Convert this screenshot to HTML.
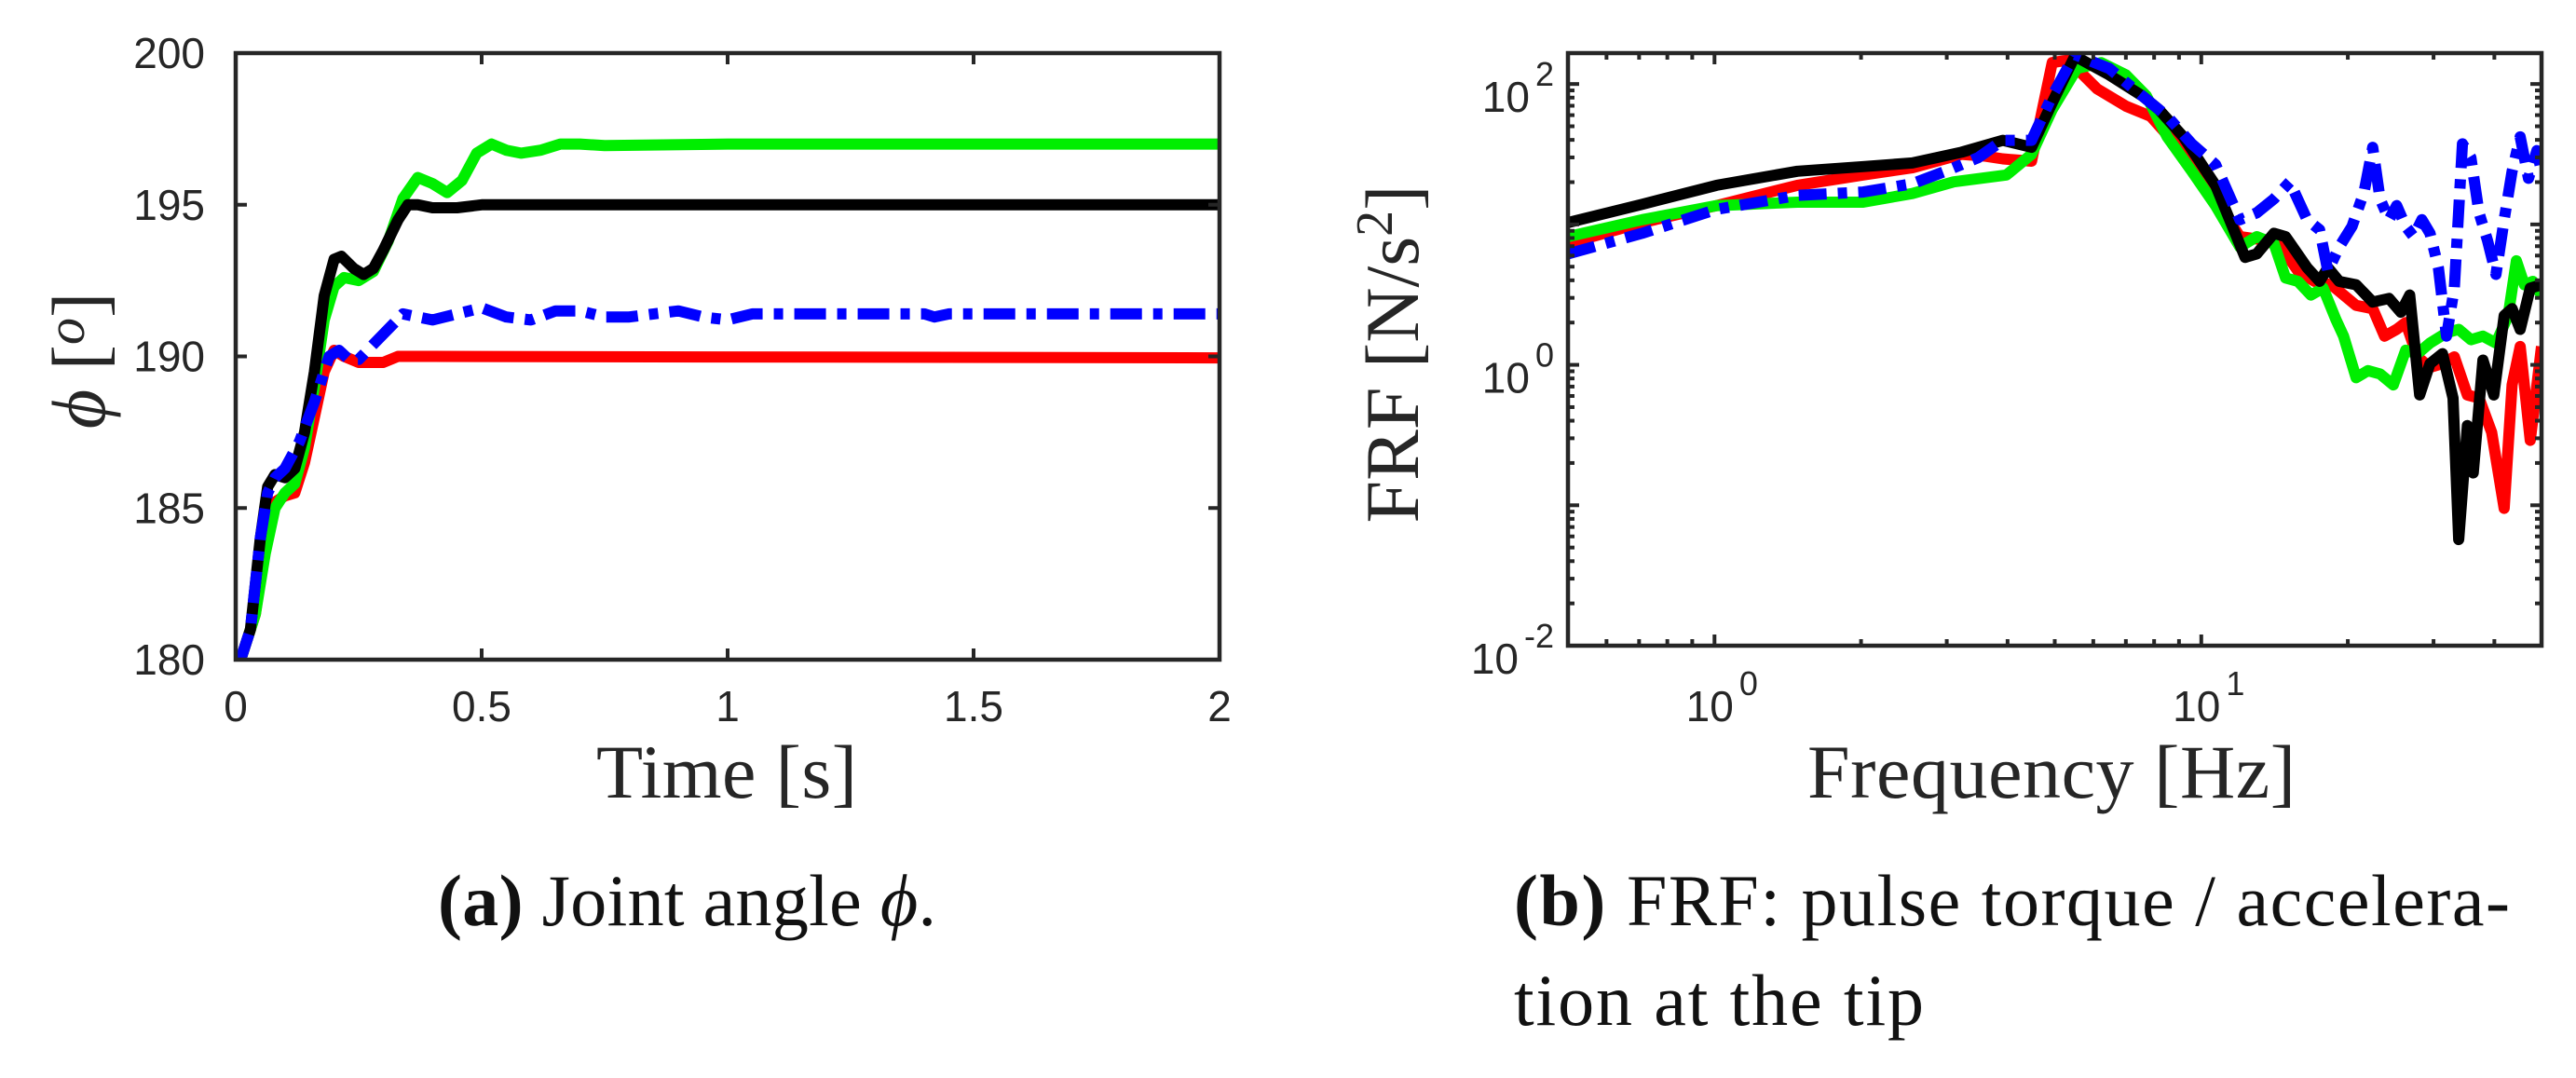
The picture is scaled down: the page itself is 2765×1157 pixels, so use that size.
<!DOCTYPE html>
<html><head><meta charset="utf-8"><style>
html,body{margin:0;padding:0;background:#fff;}
svg{display:block;}
</style></head><body>
<svg id="fig" width="2765" height="1157" viewBox="0 0 2765 1157" xmlns="http://www.w3.org/2000/svg">
<defs>
<clipPath id="clipA"><rect x="253" y="57" width="1056" height="651"/></clipPath>
<clipPath id="clipB"><rect x="1683" y="57" width="1045" height="636"/></clipPath>
</defs>
<g id="chartA"></g>
<g id="chartB"></g>
<text x="780" y="856" text-anchor="middle" font-family="Liberation Serif, serif" font-size="82" fill="#262626" textLength="280">Time [s]</text>
<text transform="translate(112,387) rotate(-90)" text-anchor="middle" font-family="Liberation Serif, serif" font-size="82" fill="#262626"><tspan font-style="italic">ϕ</tspan> [<tspan font-style="italic" font-size="58" dy="-22">o</tspan><tspan dy="22">]</tspan></text>
<text x="470" y="993" font-family="Liberation Serif, serif" font-size="78" fill="#111" textLength="535"><tspan font-weight="bold">(a)</tspan> Joint angle <tspan font-style="italic">ϕ</tspan>.</text>
<text x="2202" y="856" text-anchor="middle" font-family="Liberation Serif, serif" font-size="82" fill="#262626" textLength="524">Frequency [Hz]</text>
<text transform="translate(1522,380) rotate(-90)" text-anchor="middle" font-family="Liberation Serif, serif" font-size="82" fill="#262626">FRF [N/s<tspan font-size="56" dy="-28">2</tspan><tspan dy="28">]</tspan></text>
<text x="1625" y="993" font-family="Liberation Serif, serif" font-size="78" fill="#111" textLength="1069"><tspan font-weight="bold">(b)</tspan> FRF: pulse torque / accelera-</text>
<text x="1625" y="1100" font-family="Liberation Serif, serif" font-size="78" fill="#111" textLength="440">tion at the tip</text>
</svg>
<script>
// ---- Chart A data ----
const tBlack=[0,0.01,0.03,0.05,0.065,0.08,0.1,0.12,0.14,0.16,0.18,0.2,0.215,0.24,0.26,0.28,0.3,0.33,0.35,0.37,0.4,0.45,0.5,2];
const vBlack=[180,180,181,184,185.7,186.1,186.0,186.3,187.5,189.5,192,193.2,193.3,192.9,192.7,192.9,193.5,194.5,195,195,194.9,194.9,195.0,195];
const tGreen=[0,0.01,0.04,0.06,0.08,0.1,0.12,0.14,0.16,0.18,0.2,0.22,0.25,0.28,0.31,0.34,0.37,0.4,0.43,0.46,0.49,0.52,0.55,0.58,0.62,0.66,0.7,0.75,1.0,2];
const vGreen=[180,180,181.5,183.5,185,185.5,185.8,187,189,191.2,192.3,192.6,192.5,192.8,193.8,195.2,195.9,195.7,195.4,195.8,196.7,197.0,196.8,196.7,196.8,197.0,197.0,196.95,197.0,197];
const tRed=[0,0.01,0.04,0.06,0.08,0.1,0.12,0.14,0.16,0.18,0.2,0.22,0.25,0.3,0.33,0.4,2];
const vRed=[180,180,181.5,183.8,185.2,185.4,185.5,186.5,188,189.5,190.2,190.0,189.8,189.8,190.0,190.0,189.95];
const tBlue=[0,0.01,0.03,0.05,0.065,0.08,0.1,0.13,0.16,0.19,0.21,0.23,0.25,0.28,0.31,0.34,0.37,0.4,0.45,0.5,0.55,0.6,0.65,0.7,0.75,0.8,0.85,0.9,0.95,1.0,1.05,1.2,1.4,1.42,1.45,2];
const vBlue=[180,180,181,184,185.5,186,186.3,187.2,188.5,190,190.2,189.9,189.9,190.4,190.9,191.4,191.3,191.2,191.4,191.6,191.3,191.2,191.5,191.5,191.3,191.3,191.4,191.5,191.3,191.2,191.4,191.4,191.4,191.3,191.4,191.4];
const xTicksA=[0,0.5,1,1.5,2];
const xTickLabelsA=["0","0.5","1","1.5","2"];
const yTicksA=[180,185,190,195,200];
const yTickLabelsA=["180","185","190","195","200"];

// ---- Chart B data ----
const fBlack=[0.50,0.71,1.01,1.48,2.02,2.55,3.22,3.91,4.48,4.94,5.50,6.47,7.56,8.18,9.19,10.7,12.3,13.0,14.1,14.9,16.5,17.5,18.2,19.2,20.8,22.5,24.3,25.7,26.8,28.1,29.5,31.3,32.9,33.8,35.2,36.2,37.9,39.9,41.9,43.5,45.2,47.4,50];
const mBlack=[10.3,13.9,19.0,23.9,25.8,27.4,32.7,39.7,35.4,73.6,158,116,82.4,65.9,42.0,19.0,5.83,6.17,8.65,8.18,4.92,3.93,4.92,3.93,3.72,2.80,2.97,2.37,3.14,0.61,1.02,1.20,0.58,0.057,0.37,0.17,1.08,0.61,2.24,2.51,1.79,3.52,3.72];
const fRed=[0.50,0.71,1.01,1.48,2.02,2.55,3.22,3.61,3.91,4.48,4.94,5.33,6.11,7.00,7.87,8.84,9.56,10.7,12.0,13.5,14.6,15.8,17.1,18.5,20.8,22.5,23.8,25.2,26.3,27.8,29.5,31.3,33.1,35.2,37.2,39.5,41.9,43.5,45.2,47.4,50];
const mRed=[7.31,10.3,13.6,19.0,22.5,25.3,31.6,30.6,29.3,28.2,142,148,92.3,69.6,58.9,37.5,26.7,15.2,8.18,7.73,6.91,4.65,3.93,3.72,2.65,2.51,1.60,1.79,2.00,1.14,0.96,1.02,1.14,0.61,0.58,0.33,0.095,0.72,1.35,0.29,1.35];
const fGreen=[0.50,0.71,1.01,1.48,2.02,2.55,3.10,3.98,4.48,4.94,5.55,6.23,7.00,7.71,8.51,9.56,10.7,12.0,13.0,14.1,14.9,15.8,16.8,17.8,18.9,19.6,20.8,22.0,23.3,24.8,26.3,27.8,29.5,31.9,33.8,35.8,37.9,40.3,42.7,44.4,46.1,48.0,50];
const mGreen=[8.18,10.8,13.6,14.4,14.4,16.6,20.1,22.5,31.6,65.9,129,142,116,82.4,42.0,23.9,13.6,6.91,8.18,7.31,4.16,3.93,3.14,3.52,2.11,1.60,0.81,0.91,0.86,0.72,1.27,1.20,1.43,1.69,1.79,1.51,1.60,1.43,2.24,5.51,3.72,3.93,3.14];
const fBlue=[0.50,0.71,1.01,1.48,2.02,2.55,2.98,3.48,3.91,4.48,4.94,5.50,6.47,7.56,8.51,9.56,10.7,12.0,13.0,14.1,15.2,16.5,17.5,18.2,19.2,20.4,21.6,22.5,23.3,24.3,25.2,26.3,27.3,28.4,29.5,30.7,31.9,33.1,34.4,35.8,37.2,38.7,40.3,41.9,43.5,45.2,47.0,48.9,50];
const mBlue=[6.17,8.65,12.8,16.1,17.0,19.5,23.9,29.9,39.7,39.7,82.4,162,129,82.4,58.9,37.5,26.7,10.8,12.1,15.2,20.1,10.8,9.16,4.65,6.91,9.68,17.0,35.4,15.2,10.8,13.6,9.68,8.18,10.8,8.65,4.92,1.60,3.52,37.5,29.9,12.1,7.73,4.41,10.8,23.9,42.0,21.3,33.5,23.9];
const xTicksB=[1,10];
const xTickExpB=["0","1"];
const yTicksB=[0.01,1,100];
const yTickExpB=["-2","0","2"];

const NS="http://www.w3.org/2000/svg";
const AX="#262626";
function mk(parent,tag,attrs){const e=document.createElementNS(NS,tag);for(const k in attrs)e.setAttribute(k,attrs[k]);parent.appendChild(e);return e;}

// ---- Chart A ----
const A={x0:253,x1:1309,y0:57,y1:708};
const xA=t=>A.x0+(t-0)/(2-0)*(A.x1-A.x0);
const yA=v=>A.y1-(v-180)/(200-180)*(A.y1-A.y0);
const gA=document.getElementById('chartA');
const linesA=mk(gA,'g',{'clip-path':'url(#clipA)'});
function seriesA(ts,vs,color,name,dash){
  const d=ts.map((t,i)=>(i?'L':'M')+xA(t).toFixed(1)+','+yA(vs[i]).toFixed(1)).join(' ');
  const p=mk(linesA,'path',{d:d,fill:'none',stroke:color,'stroke-width':12,'stroke-linejoin':'round'});
  if(dash)p.setAttribute('stroke-dasharray',dash);
  
  
}
seriesA(tRed,vRed,'#ff0000','line-red');
seriesA(tGreen,vGreen,'#00ee00','line-green');
seriesA(tBlack,vBlack,'#000000','line-black');
seriesA(tBlue,vBlue,'#0000ff','line-blue','34,12,10,12');
const boxA=mk(gA,'rect',{x:A.x0,y:A.y0,width:A.x1-A.x0,height:A.y1-A.y0,fill:'none',stroke:AX,'stroke-width':4.5});


xTicksA.forEach((t,i)=>{
  const x=xA(t);
  mk(gA,'line',{x1:x,x2:x,y1:A.y1,y2:A.y1-12,stroke:AX,'stroke-width':4});
  mk(gA,'line',{x1:x,x2:x,y1:A.y0,y2:A.y0+12,stroke:AX,'stroke-width':4});
  const tx=mk(gA,'text',{x:x,y:774,'text-anchor':'middle','font-family':'Liberation Sans, sans-serif','font-size':46,fill:AX});
  tx.textContent=xTickLabelsA[i];
  
  
});
yTicksA.forEach((v,i)=>{
  const y=yA(v);
  mk(gA,'line',{x1:A.x0,x2:A.x0+12,y1:y,y2:y,stroke:AX,'stroke-width':4});
  mk(gA,'line',{x1:A.x1,x2:A.x1-12,y1:y,y2:y,stroke:AX,'stroke-width':4});
  const tx=mk(gA,'text',{x:220,y:y+16,'text-anchor':'end','font-family':'Liberation Sans, sans-serif','font-size':46,fill:AX});
  tx.textContent=yTickLabelsA[i];
  
  
});

// ---- Chart B ----
const B={x0:1683,x1:2728,y0:57,y1:693};
const LX0=Math.log10(0.5),LX1=Math.log10(50),LY0=-2,LY1=2.22;
const xB=f=>B.x0+(Math.log10(f)-LX0)/(LX1-LX0)*(B.x1-B.x0);
const yB=m=>B.y1-(Math.log10(m)-LY0)/(LY1-LY0)*(B.y1-B.y0);
const gB=document.getElementById('chartB');
const linesB=mk(gB,'g',{'clip-path':'url(#clipB)'});
function seriesB(fs,ms,color,name,dash){
  const d=fs.map((f,i)=>(i?'L':'M')+xB(f).toFixed(1)+','+yB(ms[i]).toFixed(1)).join(' ');
  const p=mk(linesB,'path',{d:d,fill:'none',stroke:color,'stroke-width':12,'stroke-linejoin':'round'});
  if(dash)p.setAttribute('stroke-dasharray',dash);
  
  
}
seriesB(fRed,mRed,'#ff0000','frf-red');
seriesB(fGreen,mGreen,'#00ee00','frf-green');
seriesB(fBlack,mBlack,'#000000','frf-black');
seriesB(fBlue,mBlue,'#0000ff','frf-blue','30,12,10,12');
const boxB=mk(gB,'rect',{x:B.x0,y:B.y0,width:B.x1-B.x0,height:B.y1-B.y0,fill:'none',stroke:AX,'stroke-width':4.5});


for(let dec=0.1;dec<=10;dec*=10){for(let k=1;k<=9;k++){const f=k*dec;if(f<0.5||f>50)continue;const x=xB(f);const L=(k===1)?12:7;
  mk(gB,'line',{x1:x,x2:x,y1:B.y1,y2:B.y1-L,stroke:AX,'stroke-width':4});
  mk(gB,'line',{x1:x,x2:x,y1:B.y0,y2:B.y0+L,stroke:AX,'stroke-width':4});}}
for(let dec=0.01;dec<=100;dec*=10){for(let k=1;k<=9;k++){const m=k*dec;if(Math.log10(m)>LY1+1e-9)continue;const y=yB(m);const L=(k===1)?12:7;
  mk(gB,'line',{x1:B.x0,x2:B.x0+L,y1:y,y2:y,stroke:AX,'stroke-width':4});
  mk(gB,'line',{x1:B.x1,x2:B.x1-L,y1:y,y2:y,stroke:AX,'stroke-width':4});}}
xTicksB.forEach((f,i)=>{
  const x=xB(f);
  const tx=mk(gB,'text',{x:x+8,y:774,'text-anchor':'middle','font-family':'Liberation Sans, sans-serif','font-size':46,fill:AX});
  tx.innerHTML='10<tspan font-size="36" dx="6" dy="-28">'+xTickExpB[i]+'</tspan>';
  
  
});
yTicksB.forEach((m,i)=>{
  const y=yB(m);
  const tx=mk(gB,'text',{x:1668,y:y+30,'text-anchor':'end','font-family':'Liberation Sans, sans-serif','font-size':46,fill:AX});
  tx.innerHTML='10<tspan font-size="36" dx="6" dy="-28">'+yTickExpB[i]+'</tspan>';
  
  
});
</script>
</body></html>
